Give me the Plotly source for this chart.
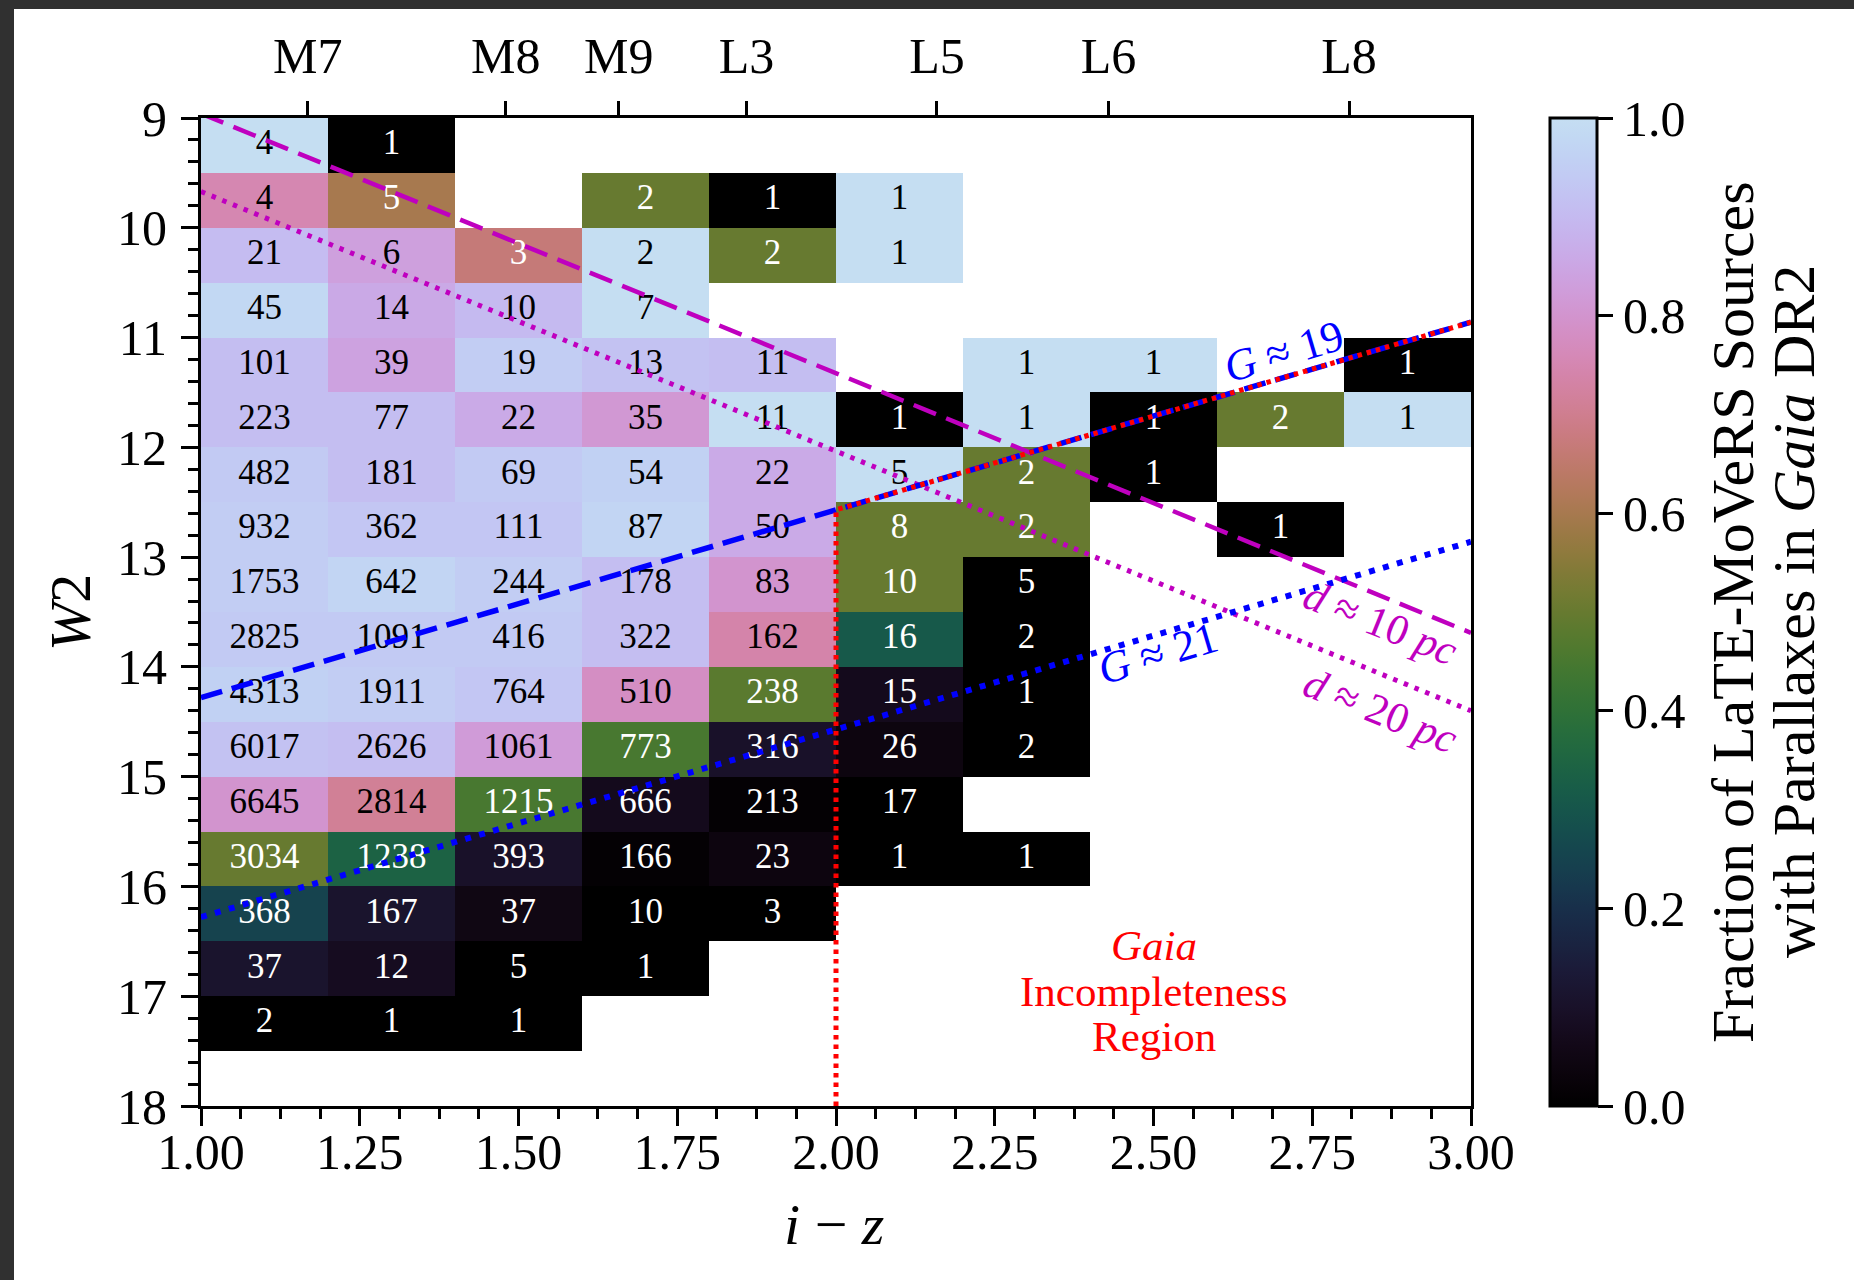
import numpy as np
import plotly.graph_objects as go

# ---------------- data ----------------
iz_centers = [1.1, 1.3, 1.5, 1.7, 1.9, 2.1, 2.3, 2.5, 2.7, 2.9]
w2_centers = [9.25, 9.75, 10.25, 10.75, 11.25, 11.75, 12.25, 12.75, 13.25,
              13.75, 14.25, 14.75, 15.25, 15.75, 16.25, 16.75, 17.25, 17.75]

N = None
# number of LaTE-MoVeRS sources per (W2 row, i-z column)
counts = [
    [4, 1, N, N, N, N, N, N, N, N],
    [4, 5, N, 2, 1, 1, N, N, N, N],
    [21, 6, 3, 2, 2, 1, N, N, N, N],
    [45, 14, 10, 7, N, N, N, N, N, N],
    [101, 39, 19, 13, 11, N, 1, 1, N, 1],
    [223, 77, 22, 35, 11, 1, 1, 1, 2, 1],
    [482, 181, 69, 54, 22, 5, 2, 1, N, N],
    [932, 362, 111, 87, 50, 8, 2, N, 1, N],
    [1753, 642, 244, 178, 83, 10, 5, N, N, N],
    [2825, 1091, 416, 322, 162, 16, 2, N, N, N],
    [4313, 1911, 764, 510, 238, 15, 1, N, N, N],
    [6017, 2626, 1061, 773, 316, 26, 2, N, N, N],
    [6645, 2814, 1215, 666, 213, 17, N, N, N, N],
    [3034, 1238, 393, 166, 23, 1, 1, N, N, N],
    [368, 167, 37, 10, 3, N, N, N, N, N],
    [37, 12, 5, 1, N, N, N, N, N, N],
    [2, 1, 1, N, N, N, N, N, N, N],
    [N, N, N, N, N, N, N, N, N, N],
]

# fraction of sources with Gaia DR2 parallaxes
fraction = [
    [1.0, 0.0, N, N, N, N, N, N, N, N],
    [0.75, 0.6, N, 0.5, 0.0, 1.0, N, N, N, N],
    [0.905, 0.833, 0.667, 1.0, 0.5, 1.0, N, N, N, N],
    [0.98, 0.857, 0.9, 1.0, N, N, N, N, N, N],
    [0.91, 0.84, 0.95, 0.92, 0.91, N, 1.0, 1.0, N, 0.0],
    [0.91, 0.91, 0.86, 0.81, 1.0, 0.0, 1.0, 0.0, 0.5, 1.0],
    [0.94, 0.91, 0.94, 0.96, 0.86, 1.0, 0.5, 0.0, N, N],
    [0.95, 0.93, 0.93, 0.97, 0.86, 0.5, 0.5, N, 0.0, N],
    [0.95, 0.97, 0.95, 0.91, 0.80, 0.5, 0.0, N, N, N],
    [0.94, 0.94, 0.94, 0.91, 0.74, 0.31, 0.0, N, N, N],
    [0.96, 0.95, 0.93, 0.78, 0.48, 0.07, 0.0, N, N, N],
    [0.92, 0.91, 0.82, 0.45, 0.10, 0.04, 0.0, N, N, N],
    [0.80, 0.71, 0.45, 0.07, 0.01, 0.0, N, N, N, N],
    [0.50, 0.34, 0.10, 0.01, 0.04, 0.0, 0.0, N, N, N],
    [0.25, 0.11, 0.05, 0.0, 0.0, N, N, N, N, N],
    [0.11, 0.08, 0.0, 0.0, N, N, N, N, N, N],
    [0.0, 0.0, 0.0, N, N, N, N, N, N, N],
    [N, N, N, N, N, N, N, N, N, N],
]

# spectral types on the top axis
spt_iz = [1.168, 1.480, 1.658, 1.859, 2.159, 2.429, 2.808]
spt_labels = ["M7", "M8", "M9", "L3", "L5", "L6", "L8"]

# reference lines (i-z, W2)
g19_iz, g19_w2 = [1.0, 3.0], [14.28, 10.86]
g21_iz, g21_w2 = [1.0, 3.0], [16.28, 12.86]
d10_iz, d10_w2 = [1.0, 3.0], [8.96, 13.69]
d20_iz, d20_w2 = [1.0, 3.0], [9.67, 14.40]
cut_iz, cut_w2 = [2.0, 2.0, 3.0], [18.0, 12.57, 10.86]

# ---------------- colormap (matplotlib cubehelix, truncated) ----------------
def cubehelix(x, s=0.5, r=-1.5, h=1.0):
    a = h * x * (1 - x) / 2
    phi = 2 * np.pi * (s / 3 + r * x)
    R = x + a * (-0.14861 * np.cos(phi) + 1.78277 * np.sin(phi))
    G = x + a * (-0.29227 * np.cos(phi) - 0.90649 * np.sin(phi))
    B = x + a * (1.97294 * np.cos(phi))
    return [int(round(255 * min(max(v, 0), 1))) for v in (R, G, B)]

CMAP_TOP = 0.85
colorscale = []
for t in np.linspace(0, 1, 51):
    rr, gg, bb = cubehelix(CMAP_TOP * t)
    colorscale.append([float(t), f"rgb({rr},{gg},{bb})"])

FONT = "Liberation Serif, DejaVu Serif, serif"
TICK_SIZE = 50

fig = go.Figure()

fig.add_trace(go.Heatmap(
    x=iz_centers, y=w2_centers, z=fraction,
    zmin=0, zmax=1, colorscale=colorscale,
    hoverongaps=False,
    colorbar=dict(
        x=(1550 - 201) / 1270, xanchor="left", xpad=0,
        y=0.5, yanchor="middle", ypad=0, len=1, lenmode="fraction",
        thickness=47, thicknessmode="pixels",
        outlinewidth=3, outlinecolor="black",
        tickvals=[0, 0.2, 0.4, 0.6, 0.8, 1.0],
        ticktext=["0.0", "0.2", "0.4", "0.6", "0.8", "1.0"],
        ticks="outside", ticklen=15, tickwidth=3, tickcolor="black",
        tickfont=dict(family=FONT, size=TICK_SIZE, color="black"),
    ),
))

# cell labels
tx, ty, tt, tc = [], [], [], []
for i, yv in enumerate(w2_centers):
    for j, xv in enumerate(iz_centers):
        c = counts[i][j]
        if c is None:
            continue
        tx.append(xv)
        ty.append(yv)
        tt.append(str(c))
        f = fraction[i][j]
        tc.append("white" if f < 0.7 else "black")

fig.add_trace(go.Scatter(
    x=tx, y=ty, text=tt, mode="text",
    textfont=dict(family=FONT, size=35, color=tc),
    showlegend=False, hoverinfo="skip",
))

# lines
fig.add_trace(go.Scatter(x=d10_iz, y=d10_w2, mode="lines",
                         line=dict(color="#bf00bf", width=4.5, dash="24px,11px"),
                         showlegend=False, hoverinfo="skip"))
fig.add_trace(go.Scatter(x=d20_iz, y=d20_w2, mode="lines",
                         line=dict(color="#bf00bf", width=5, dash="4.5px,7px"),
                         showlegend=False, hoverinfo="skip"))
fig.add_trace(go.Scatter(x=g19_iz, y=g19_w2, mode="lines",
                         line=dict(color="#0000ff", width=5.5, dash="22px,10px"),
                         showlegend=False, hoverinfo="skip"))
fig.add_trace(go.Scatter(x=g21_iz, y=g21_w2, mode="lines",
                         line=dict(color="#0000ff", width=6, dash="6px,8.5px"),
                         showlegend=False, hoverinfo="skip"))
fig.add_trace(go.Scatter(x=cut_iz, y=cut_w2, mode="lines",
                         line=dict(color="#ff0000", width=5, dash="4.5px,5px"),
                         showlegend=False, hoverinfo="skip"))

# invisible trace for top axis
fig.add_trace(go.Scatter(x=spt_iz, y=[None] * len(spt_iz), xaxis="x2",
                         mode="markers", showlegend=False, hoverinfo="skip"))

tickfont = dict(family=FONT, size=TICK_SIZE, color="black")
fig.update_layout(
    width=1854, height=1280,
    margin=dict(l=201, r=383, t=118, b=174),
    paper_bgcolor="white", plot_bgcolor="white",
    font=dict(family=FONT, color="black"),
    xaxis=dict(
        range=[1, 3], tick0=1, dtick=0.25, tickformat=".2f",
        ticks="outside", ticklen=17, tickwidth=3, tickcolor="black",
        showline=True, linewidth=3, linecolor="black", mirror=True,
        showgrid=False, zeroline=False, tickfont=tickfont,
        ticklabelstandoff=-17,
        minor=dict(tick0=1, dtick=0.0625, ticks="outside", ticklen=10,
                   tickwidth=2.5, tickcolor="black", showgrid=False),
    ),
    xaxis2=dict(
        range=[1, 3], overlaying="x", side="top", anchor="y",
        tickvals=spt_iz, ticktext=spt_labels,
        ticks="outside", ticklen=16, tickwidth=3, tickcolor="black",
        showline=False, showgrid=False, zeroline=False, tickfont=tickfont,
        ticklabelstandoff=8,
    ),
    yaxis=dict(
        range=[18, 9], tick0=9, dtick=1,
        ticks="outside", ticklen=17, tickwidth=3, tickcolor="black",
        showline=True, linewidth=3, linecolor="black", mirror=True,
        showgrid=False, zeroline=False, tickfont=tickfont,
        ticklabelstandoff=4,
        minor=dict(tick0=9, dtick=0.2, ticks="outside", ticklen=10,
                   tickwidth=2.5, tickcolor="black", showgrid=False),
    ),
)

def pann(text, px, py, size, angle=0, color="black"):
    return dict(text=text, xref="paper", yref="paper",
                x=(px - 201) / 1270, y=(1106 - py) / 988,
                xanchor="center", yanchor="middle", textangle=angle,
                showarrow=False, font=dict(family=FONT, size=size, color=color))

def dann(text, x, y, size, angle, color):
    return dict(text=text, x=x, y=y, xanchor="center", yanchor="middle",
                textangle=angle, showarrow=False,
                font=dict(family=FONT, size=size, color=color))

ann = [
    # axis titles
    pann("<i>i</i> − <i>z</i>", 834, 1224, 58),
    pann("<i>W</i>2", 70, 613, 58, -90),
    # colorbar title (two lines)
    pann("Fraction of LaTE-MoVeRS Sources", 1733, 612, 60, -90),
    pann("with Parallaxes in <i>Gaia</i> DR2", 1794, 612, 60, -90),
    # line labels
    dann("<i>G</i> ≈ 19", 2.706, 11.13, 44, -16.5, "#0000ff"),
    dann("<i>G</i> ≈ 21", 2.507, 13.88, 44, -16.5, "#0000ff"),
    dann("<i>d</i> ≈ 10 <i>pc</i>", 2.857, 13.60, 43, 22, "#bf00bf"),
    dann("<i>d</i> ≈ 20 <i>pc</i>", 2.857, 14.40, 43, 22, "#bf00bf"),
    # Gaia incompleteness region
    dann("<i>Gaia</i>", 2.5, 16.54, 43, 0, "#ff0000"),
    dann("Incompleteness", 2.5, 16.96, 43, 0, "#ff0000"),
    dann("Region", 2.5, 17.37, 43, 0, "#ff0000"),
]
fig.update_layout(annotations=ann)

# dark frame around the white page (left and top bands)
fig.add_shape(type="rect", xref="paper", yref="paper", layer="below",
              x0=-0.2, x1=(14 - 201) / 1270, y0=-0.3, y1=1.3,
              fillcolor="#303030", line=dict(width=0))
fig.add_shape(type="rect", xref="paper", yref="paper", layer="below",
              x0=-0.2, x1=1.4, y0=(1106 - 9) / 988, y1=1.3,
              fillcolor="#303030", line=dict(width=0))

fig.write_html("out.html")
